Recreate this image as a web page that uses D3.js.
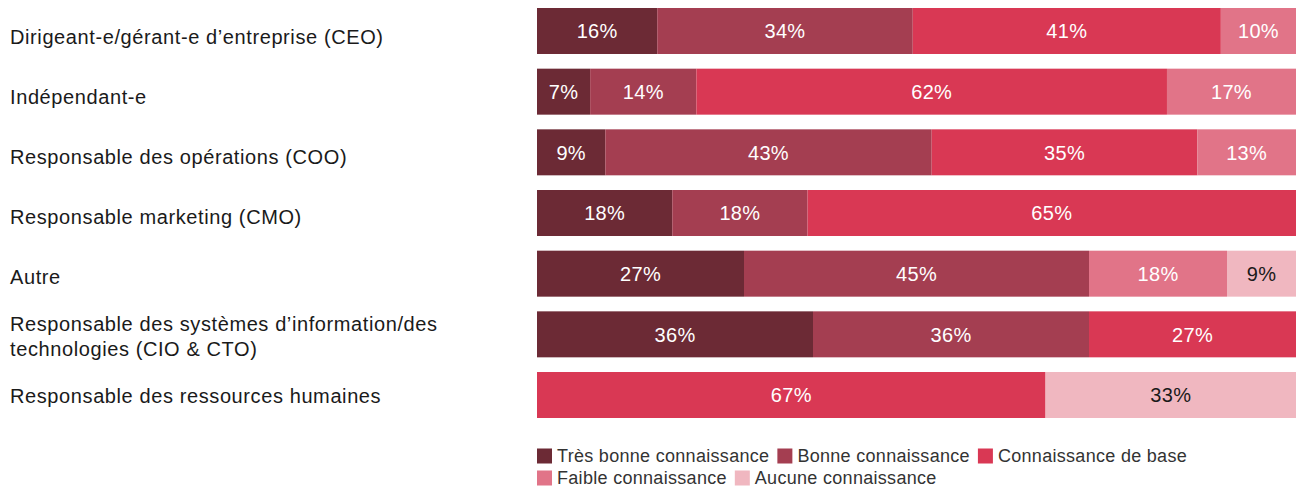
<!DOCTYPE html>
<html lang="fr">
<head>
<meta charset="utf-8">
<script src="https://cdn.jsdelivr.net/npm/d3@7"></script>
<style>
  html, body { margin: 0; padding: 0; background: #fff; }
  svg { display: block; font-family: "Liberation Sans", Arial, Helvetica, sans-serif; }
</style>
</head>
<body>
<svg id="chart" width="1301" height="488"></svg>
<script>
// Roles surveyed
const categories = [
  "Dirigeant-e/gérant-e d’entreprise (CEO)",
  "Indépendant-e",
  "Responsable des opérations (COO)",
  "Responsable marketing (CMO)",
  "Autre",
  "Responsable des systèmes d’information/des technologies (CIO & CTO)",
  "Responsable des ressources humaines"
];

// Knowledge levels (stack order, left to right)
const levels = [
  "Très bonne connaissance",
  "Bonne connaissance",
  "Connaissance de base",
  "Faible connaissance",
  "Aucune connaissance"
];

// Share of respondents per level, one value per role (%)
const tresBonne = [16, 7, 9, 18, 27, 36, 0];
const bonne     = [34, 14, 43, 18, 45, 36, 0];
const base      = [41, 62, 35, 65, 0, 27, 67];
const faible    = [10, 17, 13, 0, 18, 0, 0];
const aucune    = [0, 0, 0, 0, 9, 0, 33];

const colors = ["#6c2a35", "#a43e51", "#d93854", "#e17488", "#f0b7c0"];
const labelColors = ["#ffffff", "#ffffff", "#ffffff", "#ffffff", "#1a1a1a"];

const series = [tresBonne, bonne, base, faible, aucune];

// Build row records; each bar is scaled to its own total so it fills the width
const rows = categories.map((c, i) => {
  const row = { category: c };
  levels.forEach((l, k) => { row[l] = series[k][i]; });
  row.total = d3.sum(series, s => s[i]);
  return row;
});

const svg = d3.select("#chart");

const x = d3.scaleLinear().domain([0, 1]).range([537, 1296]);
const y = d3.scaleBand().domain(categories).range([8, 418]).paddingInner(0.242).paddingOuter(0);
const yLabel = d3.scalePoint().domain(categories).range([37, 396]);

const stack = d3.stack()
  .keys(levels)
  .value((d, key) => d[key] / d.total);
const stacked = stack(rows);

// Bars
const layers = svg.append("g").selectAll("g")
  .data(stacked)
  .join("g")
  .attr("fill", (d, i) => colors[i]);

layers.selectAll("rect")
  .data(d => d.filter(s => s[1] - s[0] > 0))
  .join("rect")
  .attr("x", d => x(d[0]))
  .attr("y", d => y(d.data.category))
  .attr("width", d => x(d[1]) - x(d[0]))
  .attr("height", y.bandwidth());

// Value labels centred in each segment
layers.each(function(layer, i) {
  d3.select(this).selectAll("text")
    .data(layer.filter(s => s[1] - s[0] > 0))
    .join("text")
    .attr("x", d => (x(d[0]) + x(d[1])) / 2)
    .attr("y", d => y(d.data.category) + y.bandwidth() / 2)
    .attr("dy", "0.36em")
    .attr("text-anchor", "middle")
    .attr("font-size", 20)
    .attr("letter-spacing", 0.3)
    .attr("fill", labelColors[i])
    .text(d => d.data[layer.key] + "%");
});

// Category labels, wrapped to a maximum width
const maxLabelWidth = 470;
const lineHeight = 25;
svg.append("g").selectAll("text")
  .data(categories)
  .join("text")
  .attr("x", 10)
  .attr("font-size", 20)
  .attr("letter-spacing", 0.6)
  .attr("fill", "#1a1a1a")
  .each(function(d) {
    const t = d3.select(this);
    const words = d.split(" ");
    const lines = [];
    let line = [];
    const probe = t.append("tspan");
    words.forEach(w => {
      line.push(w);
      probe.text(line.join(" "));
      if (probe.node().getComputedTextLength() > maxLabelWidth && line.length > 1) {
        line.pop();
        lines.push(line.join(" "));
        line = [w];
      }
    });
    lines.push(line.join(" "));
    probe.remove();
    const cy = yLabel(d);
    const first = cy - (lines.length - 1) * lineHeight / 2;
    lines.forEach((l, j) => {
      t.append("tspan")
        .attr("x", 10)
        .attr("y", first + j * lineHeight)
        .attr("dy", "0.36em")
        .text(l);
    });
  });

// Legend, flowing left to right and wrapping at the bar edge
const legend = svg.append("g").attr("font-size", 18).attr("letter-spacing", 0.3).attr("fill", "#333");
const sw = 15, gapText = 5, gapItem = 8, legendRowH = 22;
let lx = x(0), ly = 456;
levels.forEach((l, i) => {
  const g = legend.append("g");
  const txt = g.append("text").attr("dy", "0.36em").text(l);
  const w = sw + gapText + txt.node().getComputedTextLength();
  if (lx + w > x(1) && lx > x(0)) { lx = x(0); ly += legendRowH; }
  g.append("rect")
    .attr("x", lx).attr("y", ly - sw / 2)
    .attr("width", sw).attr("height", sw)
    .attr("fill", colors[i]);
  txt.attr("x", lx + sw + gapText).attr("y", ly);
  lx += w + gapItem;
});
</script>
</body>
</html>
